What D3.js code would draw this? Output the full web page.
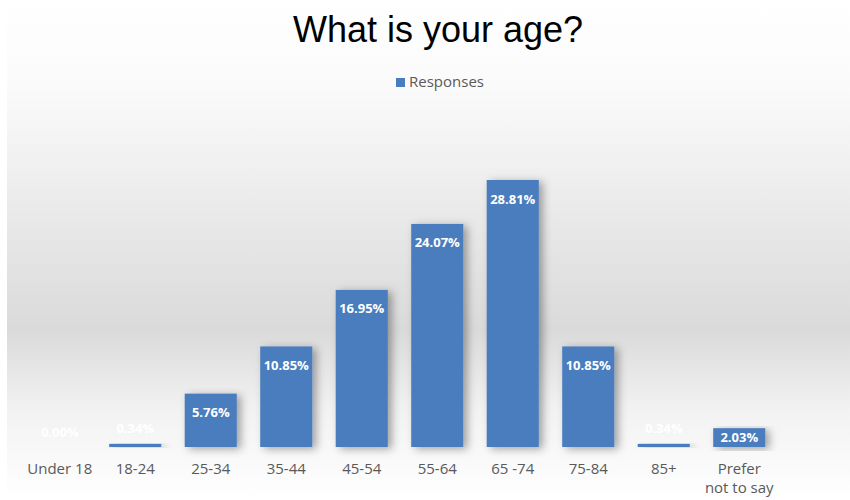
<!DOCTYPE html>
<html>
<head>
<meta charset="utf-8">
<script src="https://cdn.jsdelivr.net/npm/d3@7"></script>
<style>
  body { margin: 0; background: #fff; }
</style>
</head>
<body>
<div class="chart"></div>
<script>
// age groups and share of responses (%)
const categories = ["Under 18", "18-24", "25-34", "35-44", "45-54", "55-64", "65 -74", "75-84", "85+", "Prefer not to say"];
const responses = [0.00, 0.34, 5.76, 10.85, 16.95, 24.07, 28.81, 10.85, 0.34, 2.03];
const seriesName = "Responses";
const title = "What is your age?";

const W = 850, H = 500;
const svg = d3.select(".chart").append("svg")
  .attr("width", W)
  .attr("height", H);

const defs = svg.append("defs");

// grey background band, light at top, darker above the axis, fading out at the bottom
const bg = defs.append("linearGradient")
  .attr("id", "bg").attr("x1", 0).attr("y1", 0).attr("x2", 0).attr("y2", 1);
bg.append("stop").attr("offset", "0%").attr("stop-color", "#ffffff");
bg.append("stop").attr("offset", "18%").attr("stop-color", "#fafafa");
bg.append("stop").attr("offset", "66%").attr("stop-color", "#dadada");
bg.append("stop").attr("offset", "82%").attr("stop-color", "#f2f2f2");
bg.append("stop").attr("offset", "100%").attr("stop-color", "#ffffff");

const shadow = defs.append("filter").attr("id", "shadow")
  .attr("x", "-30%").attr("y", "-10%").attr("width", "160%").attr("height", "130%");
shadow.append("feDropShadow")
  .attr("dx", 4).attr("dy", 2).attr("stdDeviation", 4)
  .attr("flood-color", "#000").attr("flood-opacity", 0.35);

svg.append("rect")
  .attr("x", 7).attr("y", 0)
  .attr("width", W - 7).attr("height", H)
  .attr("fill", "url(#bg)");

// title
svg.append("text")
  .attr("x", 438).attr("y", 42)
  .attr("text-anchor", "middle")
  .attr("font-family", "Liberation Sans, Arial, sans-serif")
  .attr("font-size", 36)
  .attr("fill", "#000")
  .text(title);

// legend
svg.append("rect")
  .attr("x", 396).attr("y", 78)
  .attr("width", 9).attr("height", 9)
  .attr("fill", "#4a7dbd");
svg.append("text")
  .attr("x", 409).attr("y", 87)
  .attr("font-family", "Open Sans, sans-serif")
  .attr("font-size", 15)
  .attr("fill", "#595959")
  .text(seriesName);

// scales
const x = d3.scaleBand()
  .domain(categories)
  .range([22, 777])
  .paddingInner(0.31)
  .paddingOuter(0.155);

const y = d3.scaleLinear()
  .domain([0, 28.81])
  .range([447, 180]);

// bars
svg.selectAll(".bar")
  .data(responses)
  .enter().append("rect")
  .attr("class", "bar")
  .attr("x", (d, i) => x(categories[i]))
  .attr("y", d => y(d))
  .attr("width", x.bandwidth())
  .attr("height", d => y(0) - y(d))
  .attr("fill", "#4a7dbd")
  .attr("filter", d => d > 0 ? "url(#shadow)" : null);

// value labels, inside the top of each bar
svg.selectAll(".lbl")
  .data(responses)
  .enter().append("text")
  .attr("class", "lbl")
  .attr("x", (d, i) => x(categories[i]) + x.bandwidth() / 2)
  .attr("y", d => {
    const top = y(d);
    let cy;
    if (y(0) - top < 12) cy = top - 15;
    else cy = Math.min(top + 19, y(0) - 10);
    return cy;
  })
  .attr("dy", "0.35em")
  .attr("text-anchor", "middle")
  .attr("font-family", "Open Sans, sans-serif")
  .attr("font-weight", "bold")
  .attr("font-size", 13)
  .attr("fill", "#fff")
  .text(d => d.toFixed(2) + "%");

// category axis
const xAxis = svg.append("g")
  .attr("transform", "translate(0,447)")
  .call(d3.axisBottom(x).tickSize(0).tickPadding(0));
xAxis.select(".domain").remove();
xAxis.selectAll("text").remove();

xAxis.selectAll(".tick").each(function(d) {
  const t = d3.select(this).append("text")
    .attr("text-anchor", "middle")
    .attr("font-family", "Open Sans, sans-serif")
    .attr("font-size", 15)
    .attr("fill", "#595959");
  const lines = d === "Prefer not to say" ? ["Prefer", "not to say"] : [d];
  lines.forEach((s, k) => {
    t.append("tspan").attr("x", 0).attr("y", 27 + k * 19).text(s);
  });
});
</script>
</body>
</html>
